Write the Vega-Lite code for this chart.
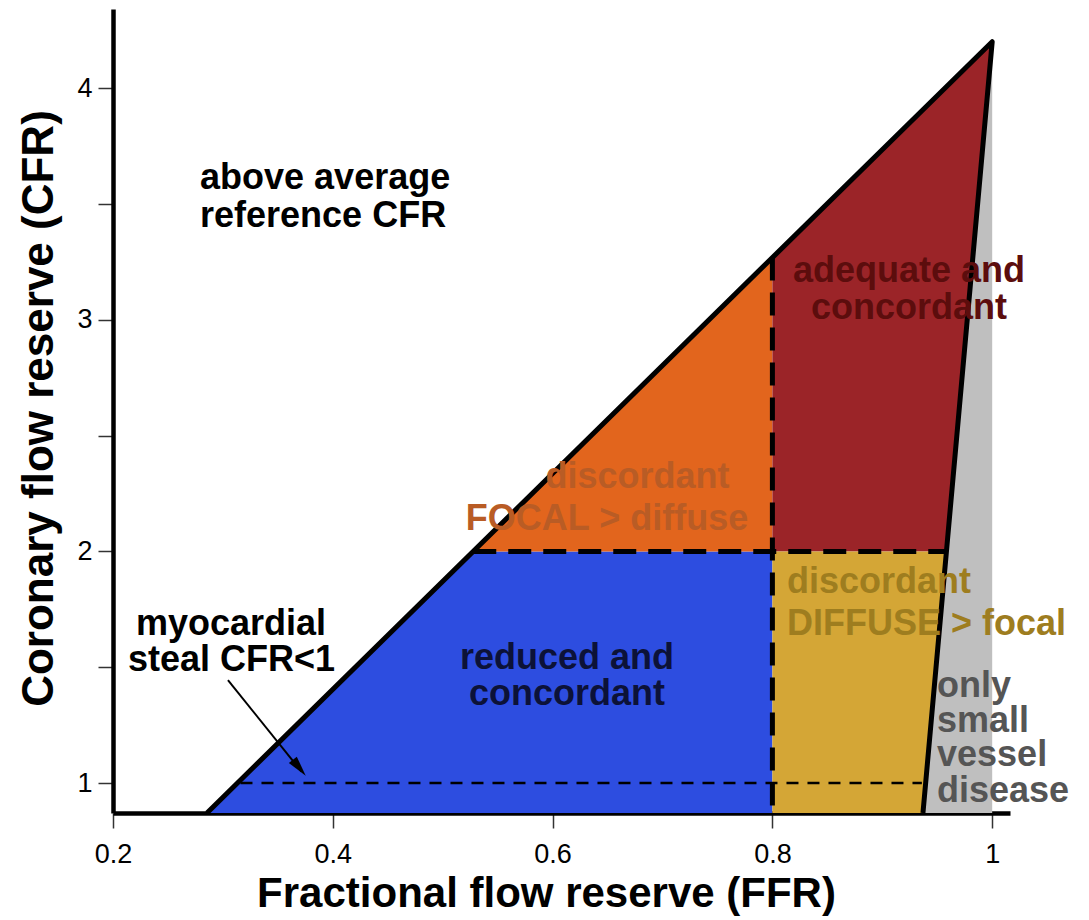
{
  "$schema": "https://vega.github.io/schema/vega-lite/v6.json",
  "width": 897,
  "height": 804,
  "autosize": {"type": "none"},
  "padding": {"left": 113, "top": 9, "right": 79, "bottom": 107},
  "background": "white",
  "config": {"view": {"stroke": null}, "font": "Liberation Sans"},
  "datasets": {
    "regions": [
      {"c": "blue", "x": 0.2855, "y": 0.871, "y2": 0.871},
      {"c": "blue", "x": 0.5278, "y": 2, "y2": 0.871},
      {"c": "blue", "x": 0.8, "y": 2, "y2": 0.871},
      {"c": "orange", "x": 0.5278, "y": 2, "y2": 2},
      {"c": "orange", "x": 0.8, "y": 3.268, "y2": 2},
      {"c": "red", "x": 0.8, "y": 3.268, "y2": 2},
      {"c": "red", "x": 0.958, "y": 4.004, "y2": 2},
      {"c": "red", "x": 1.0, "y": 4.2, "y2": 4.2},
      {"c": "yellow", "x": 0.8, "y": 2, "y2": 0.871},
      {"c": "yellow", "x": 0.937, "y": 2, "y2": 0.871},
      {"c": "yellow", "x": 0.958, "y": 2, "y2": 2},
      {"c": "gray", "x": 0.937, "y": 0.871, "y2": 0.871},
      {"c": "gray", "x": 1.0, "y": 4.2, "y2": 0.871}
    ],
    "outline": [
      {"x": 0.2855, "y": 0.871, "o": 0},
      {"x": 1.0, "y": 4.2, "o": 1},
      {"x": 0.937, "y": 0.871, "o": 2}
    ],
    "thickdash": [
      {"x": 0.8, "x2": 0.8, "y": 3.268, "y2": 0.871},
      {"x": 0.5278, "x2": 0.958, "y": 2, "y2": 2}
    ],
    "thindash": [
      {"x": 0.316, "x2": 0.936, "y": 1, "y2": 1}
    ],
    "arrow": [
      {"x": 0.3046, "y": 1.4445, "x2": 0.3715, "y2": 1.05}
    ],
    "arrowhead": [
      {"x": 0.3695, "y": 1.066}
    ],
    "leftText": [
      {"label": "above average", "x": 0.2792, "y": 3.5637, "c": "t_black"},
      {"label": "reference CFR", "x": 0.2792, "y": 3.3997, "c": "t_black"},
      {"label": "discordant", "x": 0.8133, "y": 1.82, "c": "t_gold"},
      {"label": "DIFFUSE > focal", "x": 0.8133, "y": 1.639, "c": "t_gold"},
      {"label": "only", "x": 0.9498, "y": 1.3712, "c": "t_gray"},
      {"label": "small", "x": 0.9498, "y": 1.2201, "c": "t_gray"},
      {"label": "vessel", "x": 0.9498, "y": 1.0734, "c": "t_gray"},
      {"label": "disease", "x": 0.9498, "y": 0.918, "c": "t_gray"}
    ],
    "centerText": [
      {"label": "adequate and", "x": 0.9243, "y": 3.1623, "c": "t_red"},
      {"label": "concordant", "x": 0.9243, "y": 3.0026, "c": "t_red"},
      {"label": "discordant", "x": 0.6773, "y": 2.2732, "c": "t_orange"},
      {"label": "FOCAL > diffuse", "x": 0.6495, "y": 2.0919, "c": "t_orange"},
      {"label": "reduced and", "x": 0.6131, "y": 1.492, "c": "t_navy"},
      {"label": "concordant", "x": 0.6131, "y": 1.3366, "c": "t_navy"},
      {"label": "myocardial", "x": 0.3074, "y": 1.6388, "c": "t_black"},
      {"label": "steal CFR<1", "x": 0.3079, "y": 1.4834, "c": "t_black"}
    ]
  },
  "layer": [
    {
      "data": {"name": "regions"},
      "mark": {"type": "area", "opacity": 1},
      "encoding": {
        "x": {
          "field": "x", "type": "quantitative",
          "scale": {"domain": [0.2, 1.0162], "nice": false, "zero": false},
          "axis": {
            "values": [0.2, 0.4, 0.6, 0.8, 1], "format": "~g", "grid": false,
            "title": "Fractional flow reserve (FFR)",
            "titleFont": "Liberation Sans", "titleFontSize": 42, "titleFontWeight": "bold", "titleColor": "black",
            "titleX": 433, "titleY": 93, "titleBaseline": "alphabetic", "titleAlign": "center",
            "labelFont": "Liberation Sans", "labelFontSize": 27, "labelColor": "black", "labelPadding": 13,
            "labelFlush": false, "labelOverlap": false,
            "tickSize": 15, "tickWidth": 1.5, "tickColor": "#333333",
            "domainColor": "black", "domainWidth": 4.5
          }
        },
        "y": {
          "field": "y", "type": "quantitative", "stack": null,
          "scale": {"domain": [0.871, 4.341], "nice": false, "zero": false},
          "axis": {
            "values": [1, 1.5, 2, 2.5, 3, 3.5, 4], "format": "~g", "grid": false,
            "labelExpr": "datum.value % 1 === 0 ? datum.label : ''",
            "title": "Coronary flow reserve (CFR)",
            "titleFont": "Liberation Sans", "titleFontSize": 44, "titleFontWeight": "bold", "titleColor": "black",
            "titleAngle": -90, "titleX": -61, "titleY": 399, "titleBaseline": "alphabetic", "titleAlign": "center",
            "labelFont": "Liberation Sans", "labelFontSize": 27, "labelColor": "black", "labelPadding": 6,
            "labelFlush": false, "labelOverlap": false,
            "tickSize": 15, "tickWidth": 1.5, "tickColor": "#333333",
            "domainColor": "black", "domainWidth": 4.5
          }
        },
        "y2": {"field": "y2"},
        "color": {
          "field": "c", "type": "nominal", "legend": null,
          "scale": {
            "domain": ["blue", "orange", "red", "yellow", "gray", "t_black", "t_red", "t_orange", "t_gold", "t_navy", "t_gray"],
            "range": ["#2d4de0", "#e2651d", "#9b2428", "#d4a636", "#bfbfbf", "#000000", "#5c0d0d", "#b95c25", "#9e7d1f", "#0c1238", "#555555"]
          }
        }
      }
    },
    {
      "data": {"name": "outline"},
      "mark": {"type": "line", "color": "black", "strokeWidth": 5, "strokeJoin": "round"},
      "encoding": {
        "x": {"field": "x", "type": "quantitative"},
        "y": {"field": "y", "type": "quantitative"},
        "order": {"field": "o", "type": "quantitative"}
      }
    },
    {
      "data": {"name": "thickdash"},
      "mark": {"type": "rule", "color": "black", "strokeWidth": 5, "strokeDash": [23, 12]},
      "encoding": {
        "x": {"field": "x", "type": "quantitative"},
        "x2": {"field": "x2"},
        "y": {"field": "y", "type": "quantitative"},
        "y2": {"field": "y2"}
      }
    },
    {
      "data": {"name": "thindash"},
      "mark": {"type": "rule", "color": "black", "strokeWidth": 2.5, "strokeDash": [12, 9]},
      "encoding": {
        "x": {"field": "x", "type": "quantitative"},
        "x2": {"field": "x2"},
        "y": {"field": "y", "type": "quantitative"},
        "y2": {"field": "y2"}
      }
    },
    {
      "data": {"name": "arrow"},
      "mark": {"type": "rule", "color": "black", "strokeWidth": 2},
      "encoding": {
        "x": {"field": "x", "type": "quantitative"},
        "x2": {"field": "x2"},
        "y": {"field": "y", "type": "quantitative"},
        "y2": {"field": "y2"}
      }
    },
    {
      "data": {"name": "arrowhead"},
      "mark": {"type": "point", "shape": "M0,-1L0.5,1L-0.5,1Z", "filled": true, "color": "black", "opacity": 1, "size": 420, "angle": 141},
      "encoding": {
        "x": {"field": "x", "type": "quantitative"},
        "y": {"field": "y", "type": "quantitative"}
      }
    },
    {
      "data": {"name": "leftText"},
      "mark": {"type": "text", "align": "left", "baseline": "alphabetic", "font": "Liberation Sans", "fontSize": 36, "fontWeight": "bold"},
      "encoding": {
        "x": {"field": "x", "type": "quantitative"},
        "y": {"field": "y", "type": "quantitative"},
        "text": {"field": "label"},
        "color": {"field": "c", "type": "nominal", "legend": null}
      }
    },
    {
      "data": {"name": "centerText"},
      "mark": {"type": "text", "align": "center", "baseline": "alphabetic", "font": "Liberation Sans", "fontSize": 36, "fontWeight": "bold"},
      "encoding": {
        "x": {"field": "x", "type": "quantitative"},
        "y": {"field": "y", "type": "quantitative"},
        "text": {"field": "label"},
        "color": {"field": "c", "type": "nominal", "legend": null}
      }
    }
  ]
}
